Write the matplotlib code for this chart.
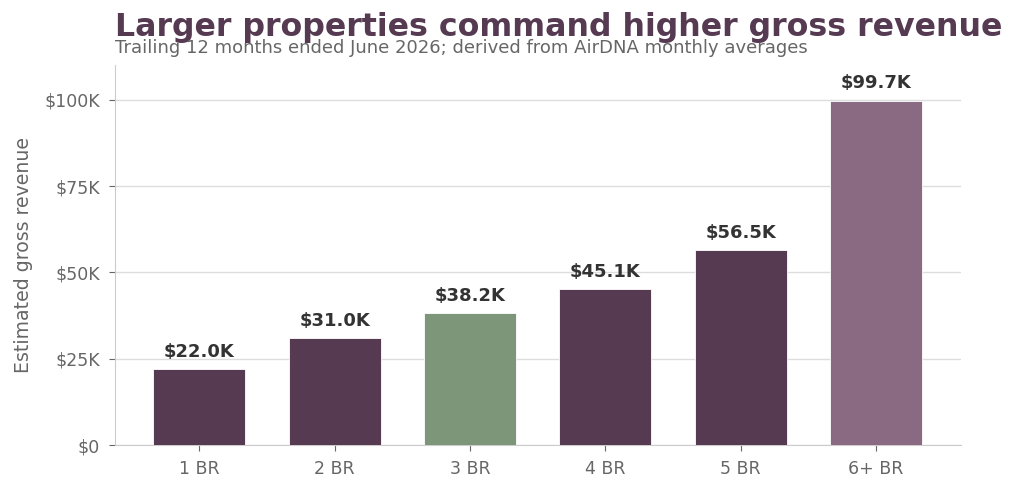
import numpy as np
import matplotlib.pyplot as plt
from matplotlib.ticker import FuncFormatter

plt.rcParams['font.family'] = ['DejaVu Sans']

categories = ['1 BR', '2 BR', '3 BR', '4 BR', '5 BR', '6+ BR']
revenue = [22.0, 31.0, 38.2, 45.1, 56.5, 99.7]  # thousands of dollars
colors = ['#553a52', '#553a52', '#7d967a', '#553a52', '#553a52', '#8a6a82']

fig, ax = plt.subplots(figsize=(10.24, 4.93), dpi=100)
fig.subplots_adjust(left=0.112, right=0.938, top=0.868, bottom=0.097)

x = np.arange(len(categories))
ax.bar(x, revenue, width=0.68, color=colors, edgecolor='white', linewidth=0.6, zorder=3)

for xi, v in zip(x, revenue):
    ax.annotate('$%.1fK' % v, (xi, v), xytext=(0, 6), textcoords='offset points',
                ha='center', va='bottom', fontsize=13, fontweight='bold', color='#333333')

ax.set_ylim(0, 110)
ax.set_yticks([0, 25, 50, 75, 100])
ax.yaxis.set_major_formatter(FuncFormatter(lambda v, p: '$0' if v == 0 else '$%dK' % v))
ax.set_xticks(x)
ax.set_xticklabels(categories)
ax.set_ylabel('Estimated gross revenue', fontsize=13.6, color='#666666')
ax.yaxis.set_label_coords(-0.097, 0.5)

ax.grid(axis='y', color='#dddddd', linewidth=1, zorder=0)
for s in ['top', 'right']:
    ax.spines[s].set_visible(False)
for s in ['left', 'bottom']:
    ax.spines[s].set_color('#cccccc')
ax.tick_params(colors='#666666', labelsize=12.5, length=4.5, pad=6)

ax.text(0, 1.077, 'Larger properties command higher gross revenue', transform=ax.transAxes,
        fontsize=22.8, fontweight='bold', color='#553a52', ha='left', va='baseline')
ax.text(0, 1.032, 'Trailing 12 months ended June 2026; derived from AirDNA monthly averages',
        transform=ax.transAxes, fontsize=13, color='#666666', ha='left', va='baseline')

plt.savefig('out.png', format='png')
